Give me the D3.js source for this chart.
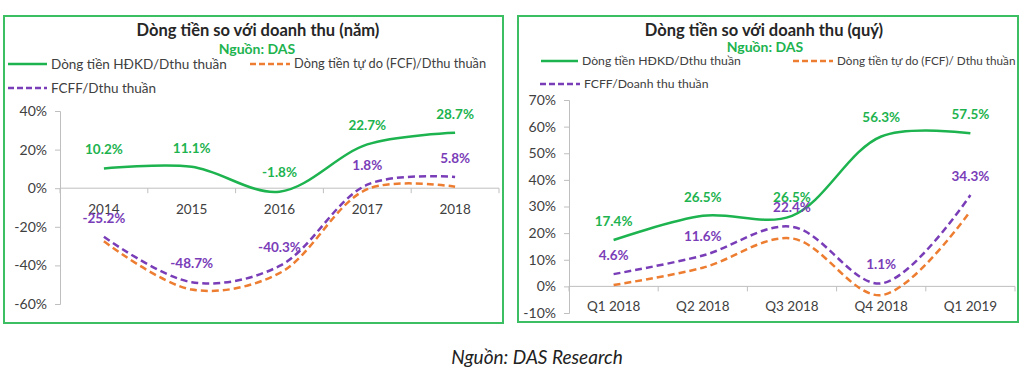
<!DOCTYPE html>
<html>
<head>
<meta charset="utf-8">
<script src="https://cdn.jsdelivr.net/npm/d3@7"></script>
<style>
  body { margin: 0; background: #fff; }
  svg { display: block; font-family: Lato, "Open Sans", sans-serif; }
</style>
</head>
<body>
<div id="chart"></div>
<script>
// data (values in %)
const years = ['2014', '2015', '2016', '2017', '2018'];
const yearHdkd = [10.2, 11.1, -1.8, 22.7, 28.7];
const yearFcf = [-27.5, -52.5, -44.0, -0.5, 0.8];
const yearFcff = [-25.2, -48.7, -40.3, 1.8, 5.8];
const yearTicks = [40, 20, 0, -20, -40, -60];

const quarters = ['Q1 2018', 'Q2 2018', 'Q3 2018', 'Q4 2018', 'Q1 2019'];
const qHdkd = [17.4, 26.5, 26.5, 56.3, 57.5];
const qFcf = [0.5, 7.0, 18.0, -3.3, 28.3];
const qFcff = [4.6, 11.6, 22.4, 1.1, 34.3];
const qTicks = [70, 60, 50, 40, 30, 20, 10, 0, -10];

const GREEN = '#1db34f';
const ORANGE = '#ed7d31';
const PURPLE = '#7a3db8';
const BORDER = '#3cbf63';
const TEXT = '#404040';

const svg = d3.select('#chart')
  .append('svg')
  .attr('width', 1024)
  .attr('height', 384);

svg.append('rect').attr('width', 1024).attr('height', 384).attr('fill', '#fff');

function drawPanel(p) {
  let g = svg.append('g');

  // frame
  g.append('rect')
    .attr('x', p.box[0]).attr('y', p.box[1])
    .attr('width', p.box[2]).attr('height', p.box[3])
    .attr('fill', 'none').attr('stroke', BORDER).attr('stroke-width', 2);

  g.append('text')
    .attr('x', p.titleX).attr('y', 36)
    .attr('text-anchor', 'middle')
    .attr('font-size', 16.5).attr('font-weight', 'bold').attr('fill', '#262626')
    .text(p.title);

  g.append('text')
    .attr('x', p.srcX).attr('y', p.srcY)
    .attr('text-anchor', 'middle')
    .attr('font-size', 14).attr('font-weight', 'bold').attr('fill', GREEN)
    .text('Nguồn: DAS');

  // legend
  p.legend.forEach(function (item) {
    g.append('line')
      .attr('x1', item.x1).attr('x2', item.x2)
      .attr('y1', item.y).attr('y2', item.y)
      .attr('stroke', item.color).attr('stroke-width', 2.5)
      .attr('stroke-dasharray', item.dash ? '6,3' : null);
    g.append('text')
      .attr('x', item.x2 + 4).attr('y', item.y)
      .attr('dy', '0.35em')
      .attr('font-size', item.size || p.legendSize).attr('fill', TEXT)
      .text(item.label);
  });

  let x = d3.scaleBand().domain(p.cats).range(p.xRange);
  let y = d3.scaleLinear().domain(p.yDomain).range(p.yRange);
  let cx = (c) => x(c) + x.bandwidth() / 2;

  // y axis
  let yAxis = g.append('g')
    .attr('transform', 'translate(' + p.xRange[0] + ',0)')
    .call(d3.axisLeft(y).tickValues(p.ticks).tickSize(5).tickSizeOuter(5)
      .tickFormat((d) => d + '%'));
  yAxis.select('.domain').attr('stroke', '#bfbfbf');
  yAxis.selectAll('.tick line').attr('stroke', '#bfbfbf');
  yAxis.selectAll('.tick text')
    .attr('x', -13)
    .attr('font-size', 14).attr('fill', TEXT).attr('font-family', 'Lato, sans-serif');

  // category axis on the zero line, ticks at band edges
  let zero = y(0);
  g.append('line')
    .attr('x1', p.xRange[0]).attr('x2', p.xRange[1])
    .attr('y1', zero).attr('y2', zero)
    .attr('stroke', '#bfbfbf');
  let edges = p.cats.map((c) => x(c)).concat([p.xRange[1]]);
  g.selectAll('.edge').data(edges).enter().append('line')
    .attr('x1', (d) => d).attr('x2', (d) => d)
    .attr('y1', zero).attr('y2', zero + 5)
    .attr('stroke', '#bfbfbf');
  g.selectAll('.cat').data(p.cats).enter().append('text')
    .attr('x', cx).attr('y', zero + p.catOffset)
    .attr('dy', '0.35em')
    .attr('text-anchor', 'middle')
    .attr('font-size', 13.5).attr('fill', TEXT)
    .text((d) => d);

  let line = d3.line()
    .x((d, i) => cx(p.cats[i]))
    .y((d) => y(d))
    .curve(d3.curveCatmullRom);

  let series = [
    { values: p.fcf, color: ORANGE, dash: true, labels: false },
    { values: p.fcff, color: PURPLE, dash: true, labels: true },
    { values: p.hdkd, color: GREEN, dash: false, labels: true },
  ];

  series.forEach(function (s) {
    g.append('path')
      .datum(s.values)
      .attr('fill', 'none')
      .attr('stroke', s.color)
      .attr('stroke-width', 2.5)
      .attr('stroke-dasharray', s.dash ? '7,4' : null)
      .attr('d', line);
  });

  series.filter((s) => s.labels).forEach(function (s) {
    g.selectAll(null).data(s.values).enter().append('text')
      .attr('x', (d, i) => cx(p.cats[i]))
      .attr('y', (d) => y(d) - 19)
      .attr('dy', '0.35em')
      .attr('text-anchor', 'middle')
      .attr('font-size', 13.5).attr('font-weight', 'bold')
      .attr('fill', s.color)
      .text((d) => d.toFixed(1) + '%');
  });
}

drawPanel({
  box: [4, 16, 499, 307],
  title: 'Dòng tiền so với doanh thu (năm)',
  titleX: 258, srcX: 257, srcY: 54,
  legendSize: 13.5,
  legend: [
    { x1: 8, x2: 47, y: 64, color: GREEN, dash: false, label: 'Dòng tiền HĐKD/Dthu thuần' },
    { x1: 250, x2: 290, y: 64, color: ORANGE, dash: true, size: 12.8, label: 'Dòng tiền tự do (FCF)/Dthu thuần' },
    { x1: 8, x2: 47, y: 88, color: PURPLE, dash: true, label: 'FCFF/Dthu thuần' },
  ],
  cats: years,
  xRange: [60, 499],
  yDomain: [-60, 40],
  yRange: [304, 111],
  ticks: yearTicks,
  catOffset: 21,
  hdkd: yearHdkd, fcf: yearFcf, fcff: yearFcff,
});

drawPanel({
  box: [518, 16, 500, 306],
  title: 'Dòng tiền so với doanh thu (quý)',
  titleX: 764, srcX: 765, srcY: 52,
  legendSize: 12.2,
  legend: [
    { x1: 541, x2: 578, y: 61, color: GREEN, dash: false, label: 'Dòng tiền HĐKD/Dthu thuần' },
    { x1: 793, x2: 833, y: 61, color: ORANGE, dash: true, size: 11.7, label: 'Dòng tiền tự do (FCF)/ Dthu thuần' },
    { x1: 540, x2: 580, y: 84, color: PURPLE, dash: true, label: 'FCFF/Doanh thu thuần' },
  ],
  cats: quarters,
  xRange: [569, 1015],
  yDomain: [-10, 70],
  yRange: [313, 100],
  ticks: qTicks,
  catOffset: 20,
  hdkd: qHdkd, fcf: qFcf, fcff: qFcff,
});

svg.append('text')
  .attr('x', 537).attr('y', 364)
  .attr('text-anchor', 'middle')
  .attr('font-size', 19).attr('font-style', 'italic').attr('fill', '#222')
  .text('Nguồn: DAS Research');
</script>
</body>
</html>
